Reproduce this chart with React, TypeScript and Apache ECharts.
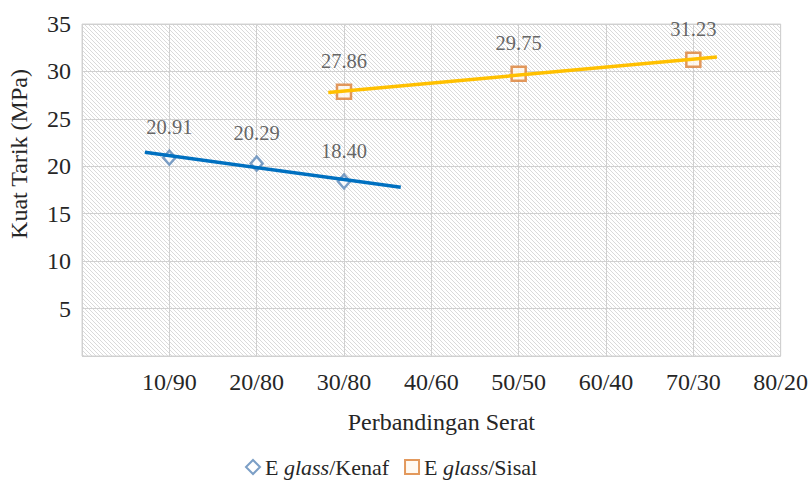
import React, { useEffect, useRef } from "react";
import * as echarts from "echarts";

// Fibre ratio categories on the x axis (position 1..8)
const categories = ["10/90", "20/80", "30/80", "40/60", "50/50", "60/40", "70/30", "80/20"];

// E glass / Kenaf tensile strength (MPa)
const kenafPositions = [1, 2, 3];
const kenafValues = [20.91, 20.29, 18.4];

// E glass / Sisal tensile strength (MPa)
const sisalPositions = [3, 5, 7];
const sisalValues = [27.86, 29.75, 31.23];

// Extent over which each linear trendline is drawn (x positions)
const kenafTrendRange = [0.72, 3.65];
const sisalTrendRange = [2.82, 7.27];

const FONT = "Liberation Serif";

// Least-squares straight line through the points, evaluated at the range ends
function trendline(xs: number[], ys: number[], range: number[]) {
  const n = xs.length;
  const mx = xs.reduce((a, b) => a + b, 0) / n;
  const my = ys.reduce((a, b) => a + b, 0) / n;
  let sxy = 0;
  let sxx = 0;
  for (let i = 0; i < n; i++) {
    sxy += (xs[i] - mx) * (ys[i] - my);
    sxx += (xs[i] - mx) * (xs[i] - mx);
  }
  const slope = sxy / sxx;
  const icpt = my - slope * mx;
  return range.map((x) => [x, icpt + slope * x]);
}

// Diagonal hatch tile for the plot background
const hatchSvg =
  '<svg xmlns="http://www.w3.org/2000/svg" width="4" height="4">' +
  '<rect width="4" height="4" fill="#ffffff"/>' +
  '<path d="M-1,-1 L5,5 M-1,3 L1,5 M3,-1 L5,1" stroke="#dadada" stroke-width="1"/>' +
  "</svg>";
const hatchUrl = "data:image/svg+xml;charset=utf-8," + encodeURIComponent(hatchSvg);

export default function App() {
  const ref = useRef<HTMLDivElement>(null);

  useEffect(() => {
    if (!ref.current) return;
    const chart = echarts.init(ref.current, undefined, { renderer: "svg" });

    const labelStyle = {
      show: true,
      position: "top" as const,
      distance: 12,
      fontFamily: FONT,
      fontSize: 20.5,
      color: "#404040",
      formatter: (p: any) => p.value[1].toFixed(2),
    };

    chart.setOption({
      animation: false,
      backgroundColor: "#ffffff",
      textStyle: { fontFamily: FONT },
      grid: {
        left: 82,
        right: 26,
        top: 24,
        bottom: 127,
        show: true,
        backgroundColor: {
          image: hatchUrl,
          repeat: "repeat",
          imageWidth: 4,
          imageHeight: 4,
        },
        borderColor: "#d4d4d4",
        borderWidth: 1,
      },
      xAxis: {
        type: "value",
        min: 0,
        max: 8,
        interval: 1,
        name: "Perbandingan Serat",
        nameLocation: "middle",
        nameGap: 54,
        nameTextStyle: { fontFamily: FONT, fontSize: 24, color: "#262626", padding: [0, 0, 0, 20] },
        axisLine: { show: false },
        axisTick: { show: false },
        axisLabel: {
          margin: 14,
          fontFamily: FONT,
          fontSize: 24,
          color: "#262626",
          showMaxLabel: true,
          formatter: (v: number) => (v >= 1 && v <= categories.length ? categories[v - 1] : ""),
        },
        splitLine: { show: true, lineStyle: { color: "#d0d0d0", width: 1 } },
      },
      yAxis: {
        type: "value",
        min: 0,
        max: 35,
        interval: 5,
        axisLine: { show: false },
        axisTick: { show: false },
        axisLabel: {
          margin: 11,
          fontFamily: FONT,
          fontSize: 24,
          color: "#262626",
          formatter: (v: number) => (v === 0 ? "" : String(v)),
        },
        splitLine: { show: true, lineStyle: { color: "#d0d0d0", width: 1 } },
      },
      legend: {
        bottom: 0,
        left: 240,
        itemWidth: 14,
        itemHeight: 14,
        itemGap: 15,
        data: ["E glass/Kenaf", "E glass/Sisal"],
        textStyle: {
          fontFamily: FONT,
          fontSize: 22,
          color: "#262626",
          rich: {
            i: { fontFamily: FONT, fontSize: 22, fontStyle: "italic", color: "#262626" },
          },
        },
        formatter: (name: string) => name.replace("glass", "{i|glass}"),
      },
      graphic: [
        {
          type: "text",
          x: 19,
          y: 154,
          rotation: Math.PI / 2,
          style: {
            text: "Kuat Tarik (MPa)",
            fontFamily: FONT,
            fontSize: 24,
            fill: "#262626",
            align: "center",
            verticalAlign: "middle",
          },
        },
      ],
      series: [
        {
          name: "E glass/Kenaf",
          type: "scatter",
          symbol: "diamond",
          symbolSize: [12, 14],
          z: 2,
          itemStyle: { color: "#ffffff", borderColor: "#5b87b8", borderWidth: 2.5 },
          label: labelStyle,
          data: kenafPositions.map((x, i) => [x, kenafValues[i]]),
        },
        {
          name: "E glass/Sisal",
          type: "scatter",
          symbol: "rect",
          symbolSize: 14,
          z: 2,
          itemStyle: { color: "#fff8ee", borderColor: "#dc7f34", borderWidth: 2.5 },
          label: labelStyle,
          data: sisalPositions.map((x, i) => [x, sisalValues[i]]),
        },
        {
          name: "Kenaf trend",
          type: "line",
          z: 3,
          symbol: "none",
          lineStyle: { color: "#0070c0", width: 3.5 },
          data: trendline(kenafPositions, kenafValues, kenafTrendRange),
        },
        {
          name: "Sisal trend",
          type: "line",
          z: 3,
          symbol: "none",
          lineStyle: { color: "#ffc000", width: 3.5 },
          data: trendline(sisalPositions, sisalValues, sisalTrendRange),
        },
      ],
    });

    return () => chart.dispose();
  }, []);

  return (
    <div
      ref={ref}
      style={{ position: "fixed", left: 0, top: 0, width: 811, height: 483 }}
    />
  );
}
